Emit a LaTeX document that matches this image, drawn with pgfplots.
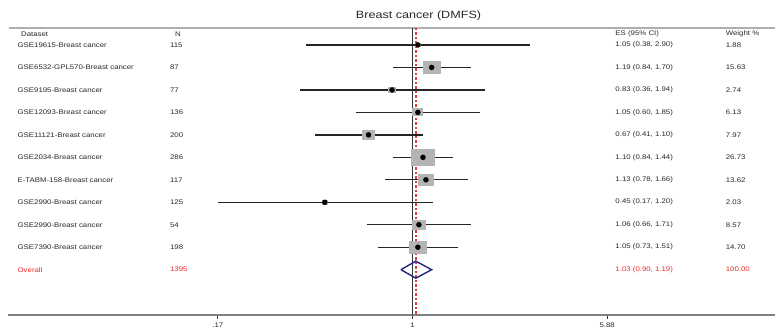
\documentclass[border=0pt]{standalone}
\usepackage{pgfplots}
\pgfplotsset{compat=1.18}
\usepackage{pgfplotstable}
\usepackage{graphicx}
\usepackage{fontspec}
\setmainfont{Liberation Sans}
\definecolor{ctext}{RGB}{40,40,40}
\definecolor{cred}{RGB}{240,40,40}
\definecolor{cdash}{RGB}{220,60,60}
\definecolor{cnavy}{RGB}{35,35,130}
\definecolor{cbox}{RGB}{180,180,180}
\definecolor{grayrule}{RGB}{175,175,175}
\newcommand{\tx}[1]{{\fontsize{6.7}{8}\selectfont\scalebox{1.17}[1]{#1}}}
\tikzset{lab/.style={anchor=west, inner sep=0pt, text=ctext}}
\newcommand{\rowtext}[5]{%
 \node[lab] at (axis cs:0.02744,-#1) {\tx{#2}};
 \node[lab] at (axis cs:0.10987,-#1) {\tx{#3}};
 \node[lab] at (axis cs:6.331,-#1) {\tx{#4}};
 \node[lab] at (axis cs:17.29,-#1) {\tx{#5}};}
\pgfdeclareplotmark{wbox}{%
  \pgfmathsetmacro{\bw}{2.25*sqrt(\wt)}%
  \pgfmathsetmacro{\bh}{\bw/1.35}%
  \pgfpathrectangle{\pgfpoint{-\bw pt}{-\bh pt}}{\pgfpoint{2*\bw pt}{2*\bh pt}}%
  \pgfusepathqfill}
\pgfplotstableread{
row es lo hi w n
1 1.05 0.38 2.90 1.88 115
2 1.19 0.84 1.70 15.63 87
3 0.83 0.36 1.94 2.74 77
4 1.05 0.60 1.85 6.13 136
5 0.67 0.41 1.10 7.97 200
6 1.10 0.84 1.44 26.73 286
7 1.13 0.78 1.66 13.62 117
8 0.45 0.17 1.20 2.03 125
9 1.06 0.66 1.71 8.57 54
10 1.05 0.73 1.51 14.70 198
}\studies
\begin{document}
\begin{tikzpicture}
\begin{axis}[
  xmode=log, scale only axis, width=768pt, height=315pt,
  xmin=0.02518, xmax=27.11, ymin=-13, ymax=1,
  clip=false,
  axis x line*=bottom, axis y line=none,
  x axis line style={-, black!50, line width=1.8pt},
  xtick={0.17,1,5.88}, xticklabels={\tx{.17},\tx{1},\tx{5.88}},
  minor xtick={},
  tick style={black!80, line width=1pt}, major tick length=4pt, tick align=outside,
  xticklabel style={text=ctext, yshift=-1pt},
  ytick=\empty,
]
% bounding
\path (axis cs:0.02341,1) rectangle (axis cs:27.11,-13.8);
% top grey rule
\draw[draw=grayrule, line width=1.4pt] (axis cs:0.0253,-0.244) -- (axis cs:27.0,-0.244);
% weight boxes
\addplot[scatter, only marks, mark=wbox,
  visualization depends on={\thisrow{w} \as \wt},
  scatter/use mapped color={draw=none, fill=cbox}]
  table[x=es, y expr=-\thisrow{row}] {\studies};
% reference lines
\addplot[draw=black!80, line width=1.5pt] coordinates {(1,-0.244) (1,-13)};
\addplot[draw=cdash, line width=1.5pt, dash pattern=on 2.5pt off 2pt] coordinates {(1.03,-0.244) (1.03,-13)};
% confidence intervals
\addplot[draw=black!85, line width=1.4pt, unbounded coords=jump] coordinates {
 (0.38,-1) (2.90,-1) (nan,nan)
 (0.84,-2) (1.70,-2) (nan,nan)
 (0.36,-3) (1.94,-3) (nan,nan)
 (0.60,-4) (1.85,-4) (nan,nan)
 (0.41,-5) (1.10,-5) (nan,nan)
 (0.84,-6) (1.44,-6) (nan,nan)
 (0.78,-7) (1.66,-7) (nan,nan)
 (0.17,-8) (1.20,-8) (nan,nan)
 (0.66,-9) (1.71,-9) (nan,nan)
 (0.73,-10) (1.51,-10)
};
% point estimates
\addplot[only marks, mark=*, mark size=2.5pt, black] table[x=es, y expr=-\thisrow{row}] {\studies};
% overall diamond
\addplot[draw=cnavy, line width=1.4pt] coordinates {(0.90,-11) (1.03,-10.62) (1.19,-11) (1.03,-11.38) (0.90,-11)};
% title
\node[text=ctext] at (axis cs:1.056,0.28) {\fontsize{10.5}{12}\selectfont\scalebox{1.2}[1]{Breast cancer (DMFS)}};
% headers
\node[lab] at (axis cs:0.02834,-0.51) {\tx{Dataset}};
\node[lab] at (axis cs:0.11491,-0.51) {\tx{N}};
\node[lab] at (axis cs:6.331,-0.51) {\tx{ES (95\% CI)}};
\node[lab] at (axis cs:17.29,-0.51) {\tx{Weight \%}};
% rows
\rowtext{1}{GSE19615-Breast cancer}{115}{1.05 (0.38, 2.90)}{1.88}
\rowtext{2}{GSE6532-GPL570-Breast cancer}{87}{1.19 (0.84, 1.70)}{15.63}
\rowtext{3}{GSE9195-Breast cancer}{77}{0.83 (0.36, 1.94)}{2.74}
\rowtext{4}{GSE12093-Breast cancer}{136}{1.05 (0.60, 1.85)}{6.13}
\rowtext{5}{GSE11121-Breast cancer}{200}{0.67 (0.41, 1.10)}{7.97}
\rowtext{6}{GSE2034-Breast cancer}{286}{1.10 (0.84, 1.44)}{26.73}
\rowtext{7}{E-TABM-158-Breast cancer}{117}{1.13 (0.78, 1.66)}{13.62}
\rowtext{8}{GSE2990-Breast cancer}{125}{0.45 (0.17, 1.20)}{2.03}
\rowtext{9}{GSE2990-Breast cancer}{54}{1.06 (0.66, 1.71)}{8.57}
\rowtext{10}{GSE7390-Breast cancer}{198}{1.05 (0.73, 1.51)}{14.70}
\node[lab, text=cred] at (axis cs:0.02744,-11) {\tx{Overall}};
\node[lab, text=cred] at (axis cs:0.10987,-11) {\tx{1395}};
\node[lab, text=cred] at (axis cs:6.331,-11) {\tx{1.03 (0.90, 1.19)}};
\node[lab, text=cred] at (axis cs:17.29,-11) {\tx{100.00}};
\end{axis}
\end{tikzpicture}
\end{document}
